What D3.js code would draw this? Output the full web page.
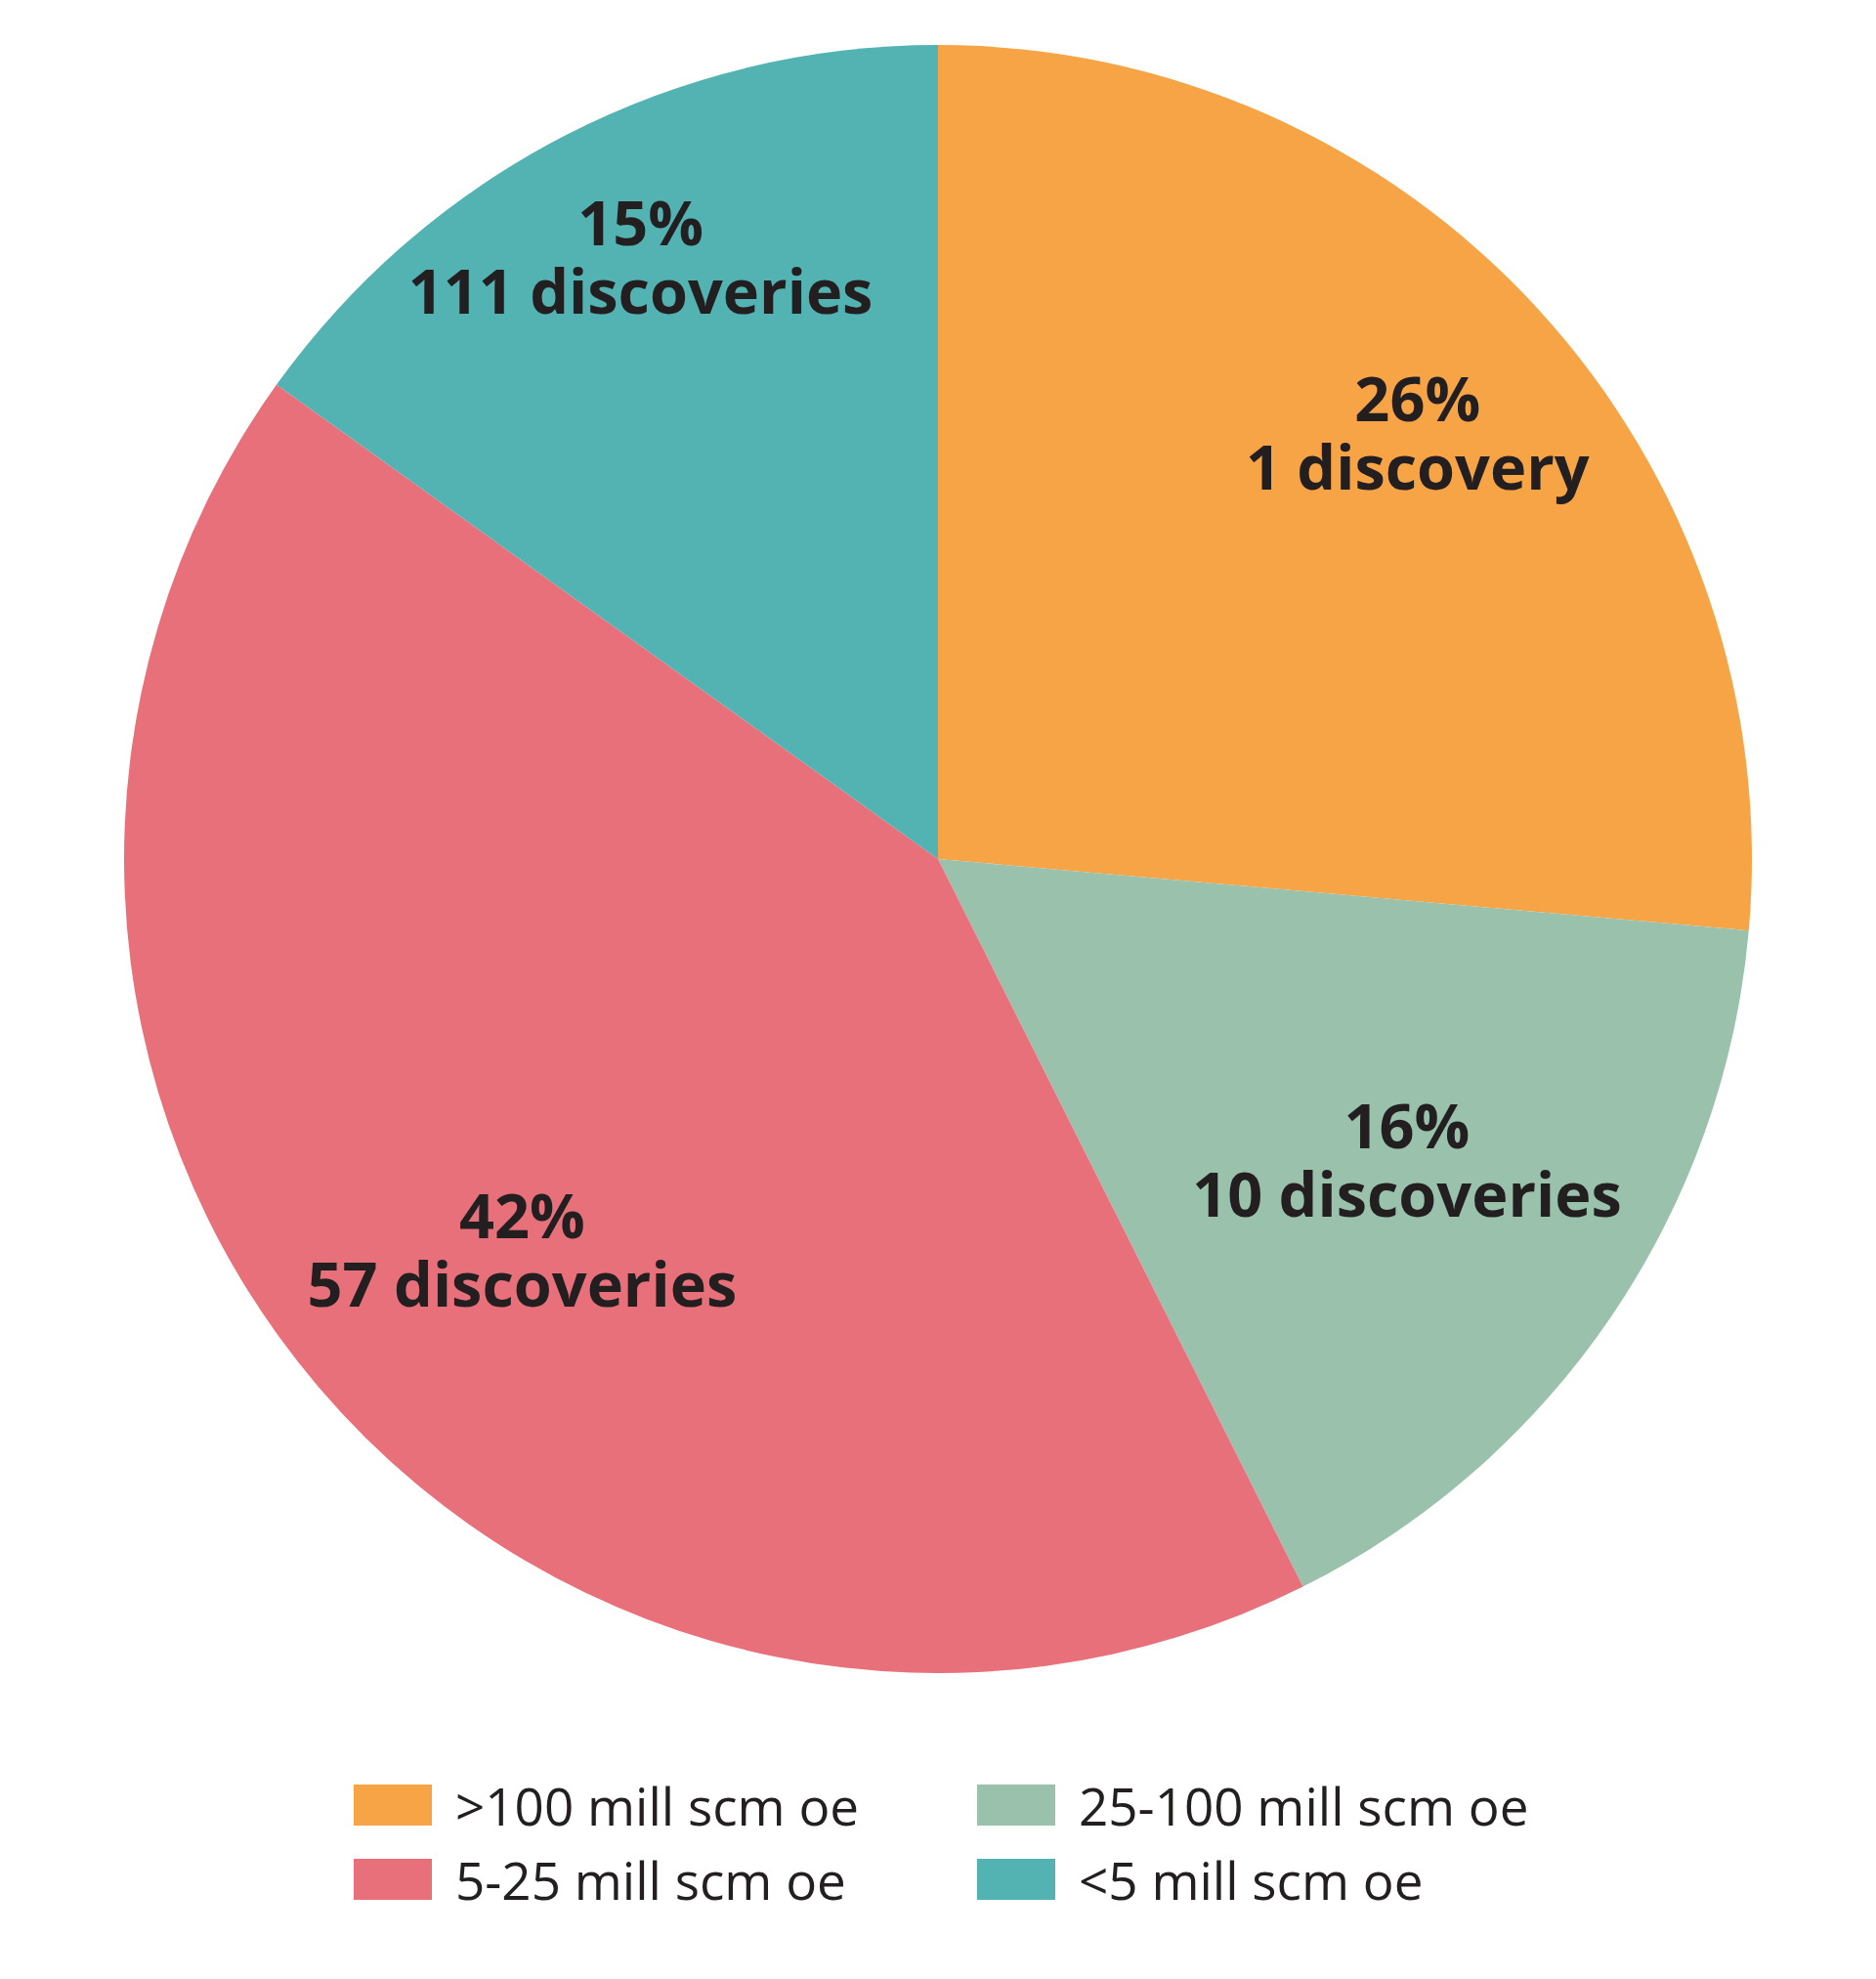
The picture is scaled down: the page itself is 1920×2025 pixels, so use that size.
<!DOCTYPE html>
<html>
<head>
<meta charset="utf-8">
<script src="https://cdn.jsdelivr.net/npm/d3@7"></script>
<style>
  html, body { margin: 0; padding: 0; background: #fff; }
  svg { display: block; }
</style>
</head>
<body>
<svg id="chart"></svg>
<script>
// slices, clockwise from 12 o'clock
const categories = ['>100 mill scm oe', '25-100 mill scm oe', '5-25 mill scm oe', '<5 mill scm oe'];
const shares = [26.4, 16.2, 42.3, 15.1];      // % of volume
const discoveries = [1, 10, 57, 111];
const colors = ['#f7a446', '#99c1ac', '#e8707a', '#53b3b3'];
// legend reads row by row
const legendOrder = [0, 1, 2, 3];

const width = 1920, height = 2025;
const cx = 960, cy = 879, R = 833;

const svg = d3.select('#chart')
    .attr('width', width)
    .attr('height', height);

const rows = categories.map((c, i) => ({
    name: c, share: shares[i], count: discoveries[i], color: colors[i]
}));

const pie = d3.pie()
    .sort(null)
    .value(d => d.share);

const arc = d3.arc()
    .innerRadius(0)
    .outerRadius(R);

const g = svg.append('g')
    .attr('transform', `translate(${cx},${cy})`);

const arcs = pie(rows);

g.selectAll('path')
    .data(arcs)
    .join('path')
    .attr('d', arc)
    .attr('fill', d => d.data.color);

// label placement: radius fraction + small angle nudge (deg) per slice
const labelTweak = [[0.77, 2.4], [0.70, 0.4], [0.72, -4.3], [0.80, 0]];

const labels = g.selectAll('text.lbl')
    .data(arcs)
    .join('text')
    .attr('class', 'lbl')
    .attr('text-anchor', 'middle')
    .attr('transform', (d, i) => {
        const a = (d.startAngle + d.endAngle) / 2 + labelTweak[i][1] * Math.PI / 180;
        const r = R * labelTweak[i][0];
        return `translate(${r * Math.sin(a)},${-r * Math.cos(a)})`;
    })
    .style('font-family', '"Open Sans", sans-serif')
    .style('font-weight', 700)
    .style('font-size', '63px')
    .style('fill', '#231f20');

labels.append('tspan')
    .attr('x', 0)
    .attr('y', -35)
    .text(d => Math.round(d.data.share) + '%');

labels.append('tspan')
    .attr('x', 0)
    .attr('y', 35)
    .text(d => d.data.count + (d.data.count === 1 ? ' discovery' : ' discoveries'));

// legend
const legend = svg.append('g')
    .attr('transform', 'translate(362,1826)');

const item = legend.selectAll('g')
    .data(legendOrder.map(i => rows[i]))
    .join('g')
    .attr('transform', (d, i) => `translate(${(i % 2) * 638},${Math.floor(i / 2) * 76})`);

item.append('rect')
    .attr('width', 80)
    .attr('height', 42)
    .attr('fill', d => d.color);

item.append('text')
    .attr('x', 104)
    .attr('y', 42)
    .text(d => d.name)
    .style('font-family', '"Open Sans", sans-serif')
    .style('font-size', '53px')
    .style('fill', '#231f20');
</script>
</body>
</html>
